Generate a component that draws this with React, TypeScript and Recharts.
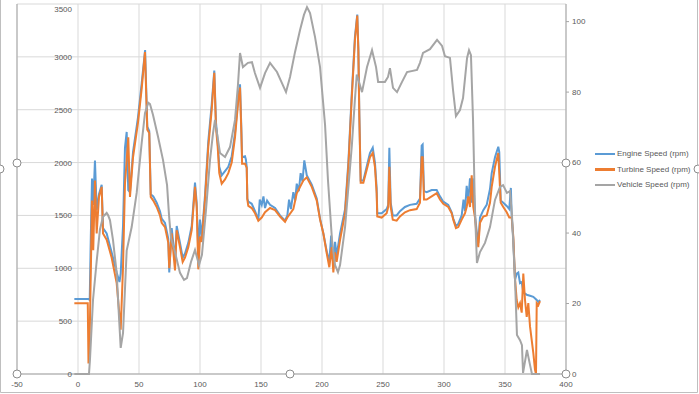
import React from 'react';
import { LineChart, Line, XAxis, YAxis, CartesianGrid } from 'recharts';

const seriesNames = ['Engine Speed (rpm)', 'Turbine Speed (rpm)', 'Vehicle Speed (rpm)'];
const seriesColors = ['#5B9BD5', '#ED7D31', '#A5A5A5'];

const xTicks = [-50, 0, 50, 100, 150, 200, 250, 300, 350, 400];
const rpmTicks = [0, 500, 1000, 1500, 2000, 2500, 3000, 3500];
const speedTicks = [0, 20, 40, 60, 80, 100];

const engineTime = [-3, 8.5, 9.6, 10.5, 11.5, 12.5, 13.9, 15.3, 17.2, 19.4, 20.5, 23.5, 27.6, 31.7, 34, 35, 36.9, 38.5, 39.9, 41.2, 42.6, 45.1, 49.2, 52.2, 55, 56.8, 58.4, 59.6, 61.7, 64.5, 67.2, 68.6, 71.3, 74, 74.8, 76.8, 79.5, 80.9, 83.6, 85.8, 87.7, 90.4, 93.2, 95.9, 97.3, 98.6, 100, 101.4, 104.1, 106.8, 109.6, 111.7, 113.1, 114.5, 115.8, 117.8, 120.5, 123.2, 126, 128.7, 131.4, 132.8, 133.9, 134.5, 136.9, 137.6, 138.3, 138.8, 139.6, 142.4, 145.1, 147.8, 149, 150.6, 152, 153.3, 155, 157.4, 161.5, 165.6, 169.7, 171.6, 173, 174.5, 176.5, 178, 179.3, 181, 182.5, 184, 185.5, 187.5, 191.6, 195.7, 198.4, 201.1, 203.9, 206, 207.5, 209.3, 210.7, 212, 214.8, 218.9, 221.6, 224.3, 227, 228.9, 229.8, 230.6, 231.7, 233.9, 236.6, 239.3, 241.6, 243.4, 244.8, 245.3, 248.9, 253, 254.3, 255.2, 256.3, 258, 261.2, 263.9, 268, 272.1, 277.6, 280.3, 281.7, 282.5, 283.6, 285.8, 289.9, 294, 296.7, 299.4, 303.5, 306.3, 307.6, 309.8, 311.7, 314.5, 316, 317.2, 318.6, 319.9, 321.3, 322.7, 324, 325.4, 326.8, 328.1, 329.5, 332.2, 335, 337.7, 339.1, 341.8, 344.5, 345.3, 346.5, 348.6, 351.4, 353.5, 354.8, 355.5, 356.8, 358.2, 359.6, 360.9, 362.3, 363.7, 365, 367.8, 370.5, 373.2, 376, 377.3, 378.7];
const engineRpm = [710, 710, 700, 1300, 1850, 1600, 2020, 1550, 1700, 1790, 1380, 1330, 1150, 960, 870, 950, 1400, 2140, 2290, 1740, 1720, 2100, 2430, 2750, 3065, 2340, 2300, 1700, 1680, 1620, 1540, 1470, 1430, 1280, 960, 1380, 1080, 1400, 1240, 1100, 1140, 1240, 1400, 1810, 1620, 1150, 1460, 1290, 1690, 2200, 2550, 2870, 2380, 2200, 1960, 1880, 1920, 1960, 2060, 2280, 2620, 2740, 2320, 2050, 2060, 2030, 1960, 1660, 1630, 1610, 1540, 1460, 1650, 1600, 1680, 1570, 1640, 1600, 1570, 1500, 1450, 1500, 1650, 1560, 1720, 1640, 1800, 1730, 1900, 1820, 2020, 1880, 1790, 1660, 1470, 1330, 1160, 1060, 1310, 1030, 1250, 1120, 1330, 1560, 2000, 2630, 3190, 3400, 3080, 2460, 1830, 1830, 1960, 2090, 2140, 2000, 1760, 1520, 1520, 1560, 1600, 2140, 1620, 1500, 1500, 1540, 1580, 1600, 1610, 1660, 2160, 2170, 1730, 1720, 1740, 1740, 1680, 1630, 1600, 1530, 1470, 1400, 1420, 1500, 1650, 1540, 1780, 1640, 1850, 1620, 1850, 1500, 1350, 1240, 1480, 1550, 1600, 1750, 1900, 2050, 2150, 2100, 1640, 1620, 1590, 1560, 1760, 1500, 1270, 890, 950, 960, 860, 870, 770, 750, 740, 730, 700, 680, 700];

const turbineTime = [-3, 8, 8.6, 9.5, 11.5, 12.5, 13.9, 15.3, 17.2, 19.4, 20.5, 23.5, 27.6, 31.7, 35, 36.9, 38.5, 39.9, 41.2, 42.6, 45.1, 49.2, 52.2, 54.9, 56.8, 58.4, 59.6, 61.7, 64.5, 67.2, 68.6, 71.3, 74, 74.8, 76.8, 79.5, 80.9, 83.6, 85.8, 87.7, 90.4, 93.2, 95.9, 97.3, 98.6, 100, 101.4, 104.1, 106.8, 109.6, 111.7, 113.1, 114.5, 115.8, 117.8, 120.5, 123.2, 126, 128.7, 131.4, 132.8, 133.9, 134.5, 136.9, 138.3, 138.8, 139.6, 142.4, 145.1, 147.8, 150.6, 153.3, 157.4, 161.5, 165.6, 169.7, 171.6, 176.5, 179.3, 184.7, 187.5, 191.6, 195.7, 198.4, 201.1, 203.9, 206, 208, 209.3, 210.7, 212, 214.8, 218.9, 221.6, 224.3, 227, 228.9, 229.8, 230.6, 231.7, 233.9, 236.6, 239.3, 241.6, 243.4, 244.8, 245.3, 248.9, 253, 254.3, 255.2, 256.3, 258, 261.2, 263.9, 268, 272.1, 277.6, 280.3, 281.7, 282.5, 283.6, 285.8, 289.9, 294, 296.7, 299.4, 303.5, 306.3, 307.6, 309.8, 311.7, 314.5, 317.2, 318.6, 319.9, 321.3, 322.7, 324, 325.4, 326.8, 328.1, 329.5, 332.2, 335, 337.7, 339.1, 341.8, 344.5, 345.3, 346.5, 348.6, 351.4, 353.5, 355.5, 356.8, 358.2, 359.6, 360.9, 362.3, 363.7, 365, 366.4, 367.8, 369.1, 370.5, 371.9, 373.2, 374.6, 375.4, 376, 377.3, 378.7];
const turbineRpm = [670, 670, 100, 300, 1640, 1170, 1830, 1330, 1675, 1770, 1330, 1270, 1100, 860, 420, 1010, 1800, 2020, 2240, 1675, 2050, 2380, 2700, 3045, 2310, 2280, 1675, 1640, 1580, 1500, 1430, 1390, 1240, 1000, 1330, 980, 1360, 1200, 1060, 1100, 1200, 1360, 1770, 1580, 990, 1300, 1250, 1646, 2150, 2500, 2850, 2330, 2150, 1900, 1800, 1840, 1900, 2000, 2240, 2590, 2710, 2280, 1990, 1990, 1950, 1650, 1590, 1570, 1520, 1450, 1480, 1530, 1570, 1550, 1490, 1440, 1480, 1560, 1710, 1830, 1860, 1770, 1640, 1460, 1330, 1140, 1010, 1200, 960, 1150, 1060, 1270, 1520, 1960, 2590, 3160, 3390, 3060, 2430, 1810, 1810, 1930, 2050, 2090, 1960, 1710, 1490, 1480, 1520, 1580, 1960, 1580, 1460, 1450, 1490, 1530, 1550, 1560, 1620, 2050, 2050, 1650, 1650, 1680, 1710, 1650, 1610, 1580, 1520, 1460, 1380, 1390, 1460, 1520, 1580, 1680, 1580, 1880, 1580, 1480, 1300, 1200, 1430, 1490, 1500, 1620, 1770, 1960, 2090, 1900, 1620, 1580, 1530, 1480, 1480, 1300, 900, 700, 630, 670, 580, 950, 700, 540, 670, 450, 320, 200, 40, 0, 670, 650, 690];

const vehicleTime = [-3, 9, 9.8, 12.3, 15.3, 18, 20.5, 23.5, 24.6, 26.2, 28.7, 31.7, 33.6, 35, 36.9, 39.9, 44, 48.1, 52.2, 54.9, 57.6, 59, 61.5, 65.6, 69.7, 73, 74.6, 76.2, 79.5, 83.6, 86.9, 89.3, 92.6, 95.9, 99.2, 101.6, 104.9, 108.2, 110.7, 112.3, 116.4, 120.5, 124.6, 128.7, 131.1, 132.8, 135.2, 139.3, 142.6, 145, 149.2, 153.3, 157.4, 163.1, 170.5, 173.8, 177.9, 182, 185.2, 187.7, 190.2, 194.3, 198.4, 202.5, 204.9, 208.2, 210.7, 213.1, 214.8, 218.9, 223, 224.5, 227, 228.5, 231.1, 232.8, 236.9, 241, 244.3, 246, 251.6, 254.1, 255.7, 258.2, 261.5, 265.6, 269.7, 277.9, 280.3, 282.8, 288.5, 294.3, 298.4, 300.8, 304.9, 307.4, 309.8, 313.1, 315.6, 318.9, 320.5, 322.1, 323.8, 325.4, 327, 329.5, 333.6, 337.7, 341.8, 345.9, 348.4, 351.6, 354.1, 355.7, 358.2, 359.8, 362.3, 363.9, 364.8, 368, 370.5, 372.1, 378.7];
const vehicleKmh = [0, 0, 4, 21, 32, 41, 44.6, 45.7, 45.1, 43.7, 38, 28.7, 16.2, 7.4, 11.6, 35, 41.7, 51.4, 65.6, 74, 77, 76.6, 73.5, 67.3, 60.7, 53.6, 45.1, 38.6, 34.6, 28.7, 26.7, 27.2, 31.8, 35.2, 30.9, 33.8, 46.5, 60.7, 68.4, 72.1, 62.7, 61.6, 64.4, 72.1, 82, 91.1, 87.1, 88.3, 88.5, 85.4, 81.2, 85.4, 88.3, 85.7, 80, 84.3, 91.4, 97.6, 101.9, 104.1, 102.4, 95.6, 87.1, 70.7, 55, 38, 30.9, 28.9, 30.9, 41.7, 58.7, 65, 78, 85, 82, 80, 87.1, 91.9, 87.1, 82.9, 82.9, 84.3, 86.8, 81.2, 80, 82.9, 85.7, 86.3, 88.3, 91.1, 92.2, 94.8, 93.1, 90.2, 89.7, 80.6, 73.2, 74.9, 78.3, 89.7, 91.9, 90.5, 72.1, 46.5, 31.5, 34.6, 37.2, 41.7, 49.4, 53.1, 53.6, 51.4, 51.9, 45.1, 26.7, 11.1, 9.6, 8.2, 0.3, 6.8, 2.6, 0, 0];

const toPoints = (ts: number[], vs: number[]) => ts.map((t, i) => ({ t, v: vs[i] }));

const engineData = toPoints(engineTime, engineRpm);
const turbineData = toPoints(turbineTime, turbineRpm);
const vehicleData = toPoints(vehicleTime, vehicleKmh);

const FONT = '"Liberation Sans", Arial, sans-serif';
const TEXT = '#595959';

const LeftTick = (props: any) => (
  <text x={72} y={props.y} dy={3} textAnchor="end" fontSize={8} fill={TEXT} fontFamily={FONT}>
    {props.payload.value}
  </text>
);

function Handles() {
  const pts = [[17, 163], [17, 374], [290, 374], [566, 374], [566, 163], [0, 169], [698, 169]];
  return (
    <svg width={699} height={394} style={{ position: 'absolute', left: 0, top: 0, pointerEvents: 'none' }}>
      <line x1={0.5} y1={0} x2={0.5} y2={392.5} stroke="#bfbfbf" />
      <line x1={0.5} y1={392.5} x2={697.5} y2={392.5} stroke="#bfbfbf" />
      <line x1={697.5} y1={0} x2={697.5} y2={392.5} stroke="#bfbfbf" />
      {pts.map(([x, y], i) => (
        <circle key={i} cx={x} cy={y} r={4} fill="#fff" stroke="#8c8c8c" strokeWidth={1} />
      ))}
    </svg>
  );
}

function LegendBox() {
  return (
    <div style={{ position: 'absolute', left: 595, top: 146, fontFamily: FONT, fontSize: 8, color: TEXT }}>
      {seriesNames.map((name, i) => (
        <div key={name} style={{ display: 'flex', alignItems: 'center', height: 15.5 }}>
          <span style={{ display: 'inline-block', width: 20, height: 2.5, background: seriesColors[i], marginRight: 2 }} />
          <span style={{ whiteSpace: 'nowrap' }}>{name}</span>
        </div>
      ))}
    </div>
  );
}

export default function App() {
  return (
    <div style={{ position: 'absolute', left: 0, top: 0, width: 699, height: 394, background: '#fff', overflow: 'hidden' }}>
      <LineChart width={699} height={394} margin={{ top: 4, right: 103, bottom: 0, left: 0 }}>
        <CartesianGrid stroke="#d9d9d9" yAxisId="left" />
        <XAxis
          dataKey="t"
          type="number"
          domain={[-50, 400]}
          ticks={xTicks}
          allowDataOverflow
          height={20}
          tickLine={false}
          tickMargin={1}
          axisLine={{ stroke: '#a6a6a6' }}
          tick={{ fontSize: 8, fill: TEXT, fontFamily: FONT }}
        />
        <YAxis
          yAxisId="left"
          domain={[0, 3500]}
          ticks={rpmTicks}
          width={17}
          tickLine={false}
          axisLine={{ stroke: '#a6a6a6' }}
          tick={LeftTick}
        />
        <YAxis
          yAxisId="right"
          orientation="right"
          domain={[0, 105]}
          ticks={speedTicks}
          width={30}
          tickSize={3}
          tickMargin={3}
          tickLine={{ stroke: '#a6a6a6' }}
          axisLine={{ stroke: '#a6a6a6' }}
          tick={{ fontSize: 8, fill: TEXT, fontFamily: FONT, textAnchor: 'start' }}
        />
        <Line yAxisId="left" data={engineData} dataKey="v" name={seriesNames[0]} stroke={seriesColors[0]} strokeWidth={2} dot={false} type="linear" isAnimationActive={false} />
        <Line yAxisId="left" data={turbineData} dataKey="v" name={seriesNames[1]} stroke={seriesColors[1]} strokeWidth={2} dot={false} type="linear" isAnimationActive={false} />
        <Line yAxisId="right" data={vehicleData} dataKey="v" name={seriesNames[2]} stroke={seriesColors[2]} strokeWidth={2} dot={false} type="linear" isAnimationActive={false} />
      </LineChart>
      <LegendBox />
      <Handles />
    </div>
  );
}
